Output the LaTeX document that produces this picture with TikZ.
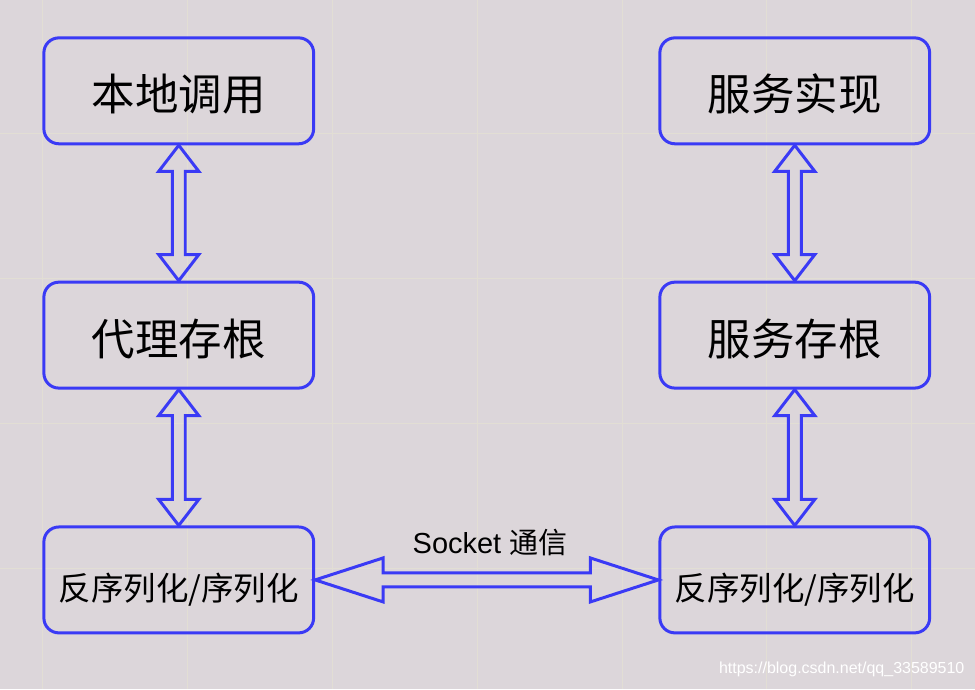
\documentclass[tikz,border=0pt]{standalone}
\usepackage{fontspec}
\setmainfont{Liberation Sans}
\newfontfamily\cjk{Noto Sans CJK SC}
\usetikzlibrary{calc}
\definecolor{linkblue}{RGB}{58,58,245}
\definecolor{paper}{RGB}{220,214,218}
\definecolor{gridtint}{RGB}{226,222,212}

\begin{document}
\begin{tikzpicture}[x=1pt, y=-1pt,
		stage/.style={draw=linkblue, line width=3pt, rounded corners=15pt, minimum width=270pt, minimum height=106pt, inner sep=0pt, text depth=0pt},
		bigtext/.style={font=\cjk\fontsize{43.5}{48}\selectfont, text height=40pt},
		smalltext/.style={font=\cjk\fontsize{32.5}{36}\selectfont, text height=40.5pt},
		twoway/.style={draw=linkblue, line width=3pt, line join=miter}]
		% paper and faint grid
		\fill[paper] (0,0) rectangle (975,689);
		\foreach \x in {42,187,...,912}
			\draw[gridtint, line width=0.8pt] (\x,0) -- (\x,689);
		\foreach \y in {133,278,...,568}
			\draw[gridtint, line width=0.8pt] (0,\y) -- (975,\y);
		% client side
		\node[stage, bigtext] (l1) at (178.5,90.5) {本地调用};
		\node[stage, bigtext] (l2) at (178.5,335) {代理存根};
		\node[stage, smalltext] (l3) at (178.5,580) {反序列化/序列化};
		% server side
		\node[stage, bigtext] (r1) at (795,90.5) {服务实现};
		\node[stage, bigtext] (r2) at (795,335) {服务存根};
		\node[stage, smalltext] (r3) at (795,580) {反序列化/序列化};
		% vertical two-way arrows
		\foreach \a/\b in {l1/l2, l2/l3, r1/r2, r2/r3}
			\draw[twoway] (\a.south) -- +(20,26) -- +(6.5,26) -- ($(\b.north)+(6.5,-26)$) -- ($(\b.north)+(20,-26)$) -- (\b.north)
				-- ($(\b.north)+(-20,-26)$) -- ($(\b.north)+(-6.5,-26)$) -- ($(\a.south)+(-6.5,26)$) -- ($(\a.south)+(-20,26)$) -- cycle;
		% socket link
		\draw[twoway] (l3.east) -- +(68,-22) -- +(68,-7) -- ($(r3.west)+(-68,-7)$) -- ($(r3.west)+(-68,-22)$) -- (r3.west)
			-- ($(r3.west)+(-68,22)$) -- ($(r3.west)+(-68,7)$) -- ($(l3.east)+(68,7)$) -- ($(l3.east)+(68,22)$) -- cycle;
		\node[font=\fontsize{29}{32}\selectfont] (sock) at (490,543) {Socket {\cjk 通信}};
		% watermark
		\node[text=white, font=\fontsize{16}{20}\selectfont] (mark) at (842,670) {https://blog.csdn.net/qq\_33589510};
	\end{tikzpicture}
\end{document}
